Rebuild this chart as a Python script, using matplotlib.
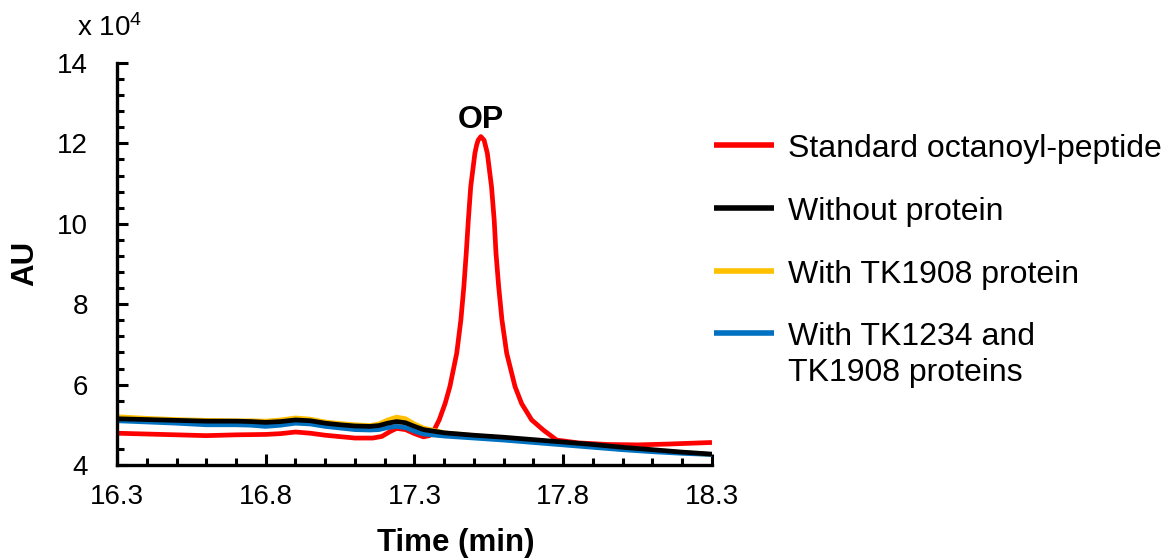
import matplotlib
matplotlib.use("Agg")
import matplotlib.pyplot as plt
from matplotlib.lines import Line2D
from matplotlib.ticker import MultipleLocator

plt.rcParams['font.family'] = ['Liberation Sans', 'DejaVu Sans']
plt.rcParams['mathtext.default'] = 'regular'

# retention time (min) and absorbance (x 10^4)
t_base = [16.30, 16.40, 16.50, 16.60, 16.70, 16.75, 16.80, 16.85, 16.90, 16.95,
          17.00, 17.05, 17.10, 17.15, 17.18, 17.21, 17.24, 17.27, 17.30, 17.33,
          17.40, 17.50, 17.60, 17.70, 17.80, 17.90, 18.00, 18.10, 18.20, 18.30]
au_without = [5.15, 5.13, 5.11, 5.09, 5.09, 5.08, 5.06, 5.08, 5.12, 5.10,
              5.04, 5.00, 4.97, 4.96, 4.98, 5.04, 5.08, 5.05, 4.96, 4.88,
              4.80, 4.74, 4.69, 4.63, 4.57, 4.51, 4.44, 4.38, 4.32, 4.27]
au_tk1908 = [5.20, 5.16, 5.13, 5.11, 5.10, 5.10, 5.09, 5.12, 5.17, 5.14,
             5.07, 5.03, 5.00, 4.98, 5.02, 5.12, 5.19, 5.15, 5.02, 4.92,
             4.80, 4.73, 4.67, 4.61, 4.55, 4.49, 4.43, 4.37, 4.31, 4.26]
au_both = [5.10, 5.07, 5.04, 5.00, 5.00, 4.99, 4.96, 4.99, 5.04, 5.02,
           4.96, 4.92, 4.88, 4.87, 4.88, 4.93, 4.96, 4.93, 4.84, 4.77,
           4.72, 4.67, 4.62, 4.56, 4.50, 4.44, 4.38, 4.33, 4.29, 4.26]

t_std = [16.30, 16.40, 16.50, 16.60, 16.70, 16.80, 16.85, 16.90, 16.95, 17.00,
         17.10, 17.16, 17.19, 17.22, 17.24, 17.27, 17.30, 17.33, 17.35, 17.366,
         17.383, 17.403, 17.419, 17.442, 17.456, 17.466, 17.474, 17.481, 17.489, 17.503,
         17.509, 17.514, 17.523, 17.534, 17.538, 17.545, 17.559, 17.568, 17.574, 17.583,
         17.594, 17.610, 17.638, 17.660, 17.694, 17.733, 17.778, 17.85, 17.95, 18.05,
         18.15, 18.30]
au_std = [4.79, 4.77, 4.75, 4.73, 4.75, 4.76, 4.78, 4.82, 4.79, 4.74,
          4.67, 4.67, 4.71, 4.84, 4.91, 4.88, 4.78, 4.70, 4.73, 4.87,
          5.12, 5.53, 5.95, 6.78, 7.61, 8.44, 9.27, 10.09, 10.92, 11.75,
          11.96, 12.08, 12.17, 12.08, 11.96, 11.75, 10.92, 10.09, 9.27, 8.44,
          7.61, 6.78, 5.95, 5.53, 5.12, 4.87, 4.62, 4.55, 4.51, 4.50,
          4.52, 4.56]

labels = ['Standard octanoyl-peptide', 'Without protein',
          'With TK1908 protein', 'With TK1234 and\nTK1908 proteins']
colors = ['#FF0000', '#000000', '#FFC000', '#0070C0']

fig = plt.figure(figsize=(11.62, 5.58), dpi=100)
ax = fig.add_axes([0.1007, 0.1667, 0.512, 0.7204])

lw = 3.4
kw = dict(lw=lw, solid_joinstyle='round', solid_capstyle='butt')
ax.plot(t_std, au_std, color=colors[0], **kw)
ax.plot(t_base, au_tk1908, color=colors[2], **kw)
ax.plot(t_base, au_both, color=colors[3], **kw)
ax.plot(t_base, au_without, color=colors[1], **kw)

ax.set_xlim(16.3, 18.3)
ax.set_ylim(4, 14)
ax.xaxis.set_minor_locator(MultipleLocator(0.1))
ax.yaxis.set_major_locator(MultipleLocator(2))
ax.yaxis.set_minor_locator(MultipleLocator(0.4))
ax.set_xticks([16.3, 16.8, 17.3, 17.8, 18.3])
ax.set_xticklabels(['16.3', '16.8', '17.3', '17.8', '18.3'])

for s in ['top', 'right']:
    ax.spines[s].set_visible(False)
for s in ['left', 'bottom']:
    ax.spines[s].set_linewidth(2.4)

ax.tick_params(axis='both', which='both', direction='in', width=2.2, labelsize=20)
ax.tick_params(axis='both', which='major', length=8)
ax.tick_params(axis='both', which='minor', length=5)
ax.tick_params(axis='x', which='major', pad=14)
ax.tick_params(axis='y', which='major', pad=21)

ax.text(17.522, 12.38, 'OP', fontsize=23, fontweight='bold', ha='center', va='baseline')

fig.text(0.392, 0.0125, 'Time (min)', fontsize=22.5, fontweight='bold', ha='center', va='baseline')
fig.text(0.022, 0.527, 'AU', fontsize=22.5, fontweight='bold', rotation=90, ha='center', va='center')
fig.text(0.066, 0.935, 'x 10$^4$', fontsize=20, ha='left', va='baseline')

# legend drawn by hand so the two-line entry keeps its line next to the first row
W, H = 1162, 558
rows = [145, 208, 271, 333]
for lab, col, y in zip(labels, colors, rows):
    fig.add_artist(Line2D([714 / W, 774 / W], [1 - y / H, 1 - y / H], color=col, lw=4,
                          solid_capstyle='butt'))
    for k, part in enumerate(lab.split('\n')):
        fig.text(788 / W, 1 - (y + 12 + 36 * k) / H, part, fontsize=23, ha='left', va='baseline')

fig.savefig('out.png', dpi=100)
